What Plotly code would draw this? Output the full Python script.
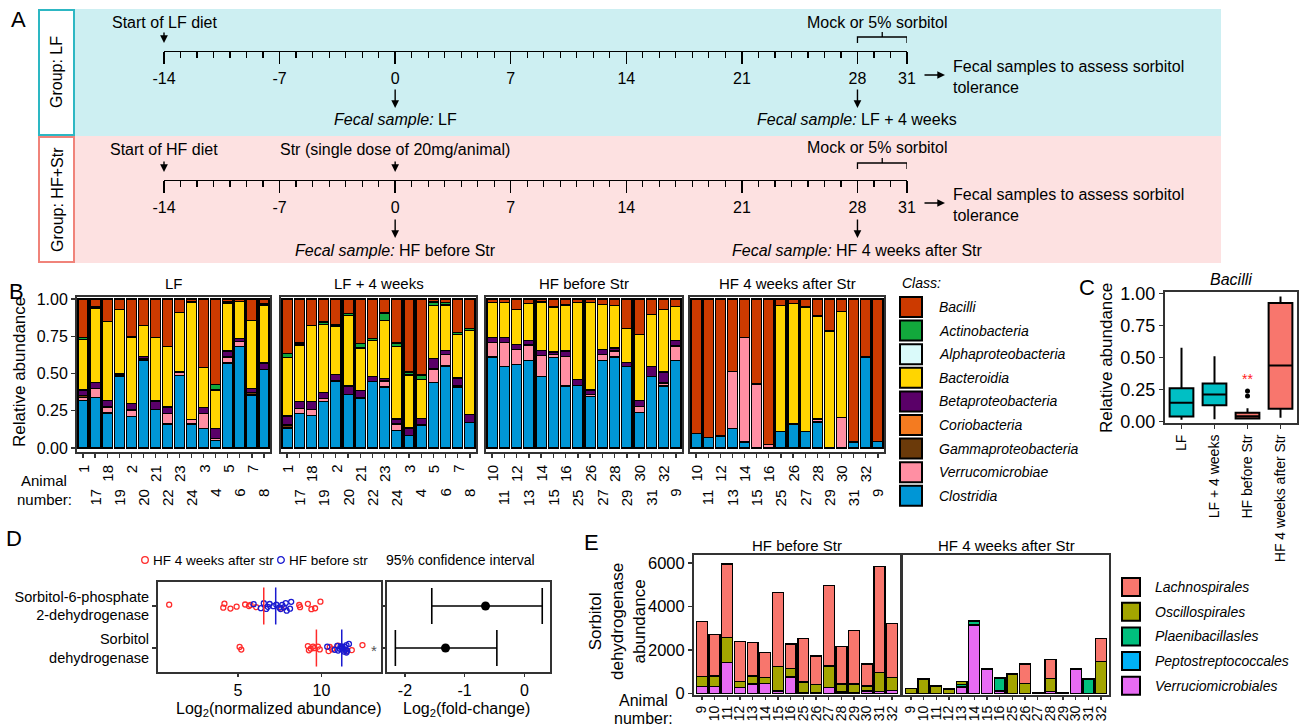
import plotly.graph_objects as go
import numpy as np

W, H = 1304, 728
FONT = "Liberation Sans"


def fx(p):
    return p / W


def fy(p):
    return 1 - p / H


# ======================= DATA =======================
timeline_ticks = [-14, -7, 0, 7, 14, 21, 28, 31]
timeline_tick_text = ["-14", "-7", "0", "7", "14", "21", "28", "31"]

lf_animals = ["1", "17", "18", "19", "2", "20", "21", "22", "23", "24", "3", "4", "5", "6", "7", "8"]
hf_animals = ["10", "11", "12", "13", "14", "15", "16", "25", "26", "27", "28", "29", "30", "31", "32", "9"]
facet_titles = ["LF", "LF + 4 weeks", "HF before Str", "HF 4 weeks after Str"]
b_ytick_vals = [0, 0.25, 0.5, 0.75, 1.0]
b_ytick_text = ["0.00", "0.25", "0.50", "0.75", "1.00"]

# legend order (top to bottom) == stack order top to bottom
class_names = ["Bacilli", "Actinobacteria", "Alphaproteobacteria", "Bacteroidia", "Betaproteobacteria",
               "Coriobacteria", "Gammaproteobacteria", "Verrucomicrobiae", "Clostridia"]
class_colors = ["#CC3A00", "#12A83C", "#DAFAFA", "#FFD500", "#5A0068",
                "#F47B20", "#6B3A0A", "#FF8FA3", "#0096D6"]

lf_abund = {
    "Clostridia":          [0.32, 0.34, 0.235, 0.48, 0.21, 0.59, 0.26, 0.16, 0.485, 0.16, 0.13, 0.05, 0.57, 0.68, 0.35, 0.525],
    "Verrucomicrobiae":    [0.02, 0.06, 0.04, 0.0, 0.045, 0.0, 0.0, 0.07, 0.025, 0.03, 0.10, 0.015, 0.04, 0.035, 0.01, 0.0],
    "Gammaproteobacteria": [0.01, 0.0, 0.0, 0.01, 0.0, 0.01, 0.0, 0.0, 0.0, 0.0, 0.0, 0.0, 0.0, 0.0, 0.01, 0.0],
    "Betaproteobacteria":  [0.04, 0.04, 0.045, 0.01, 0.045, 0.015, 0.055, 0.045, 0.0, 0.0, 0.04, 0.065, 0.04, 0.02, 0.03, 0.045],
    "Bacteroidia":         [0.34, 0.50, 0.53, 0.43, 0.44, 0.205, 0.425, 0.405, 0.40, 0.79, 0.27, 0.26, 0.32, 0.25, 0.455, 0.39],
    "Actinobacteria":      [0.01, 0.01, 0.0, 0.0, 0.01, 0.0, 0.0, 0.0, 0.0, 0.0, 0.0, 0.035, 0.01, 0.0, 0.0, 0.01],
    "Bacilli":             [0.26, 0.05, 0.15, 0.07, 0.25, 0.18, 0.26, 0.32, 0.09, 0.02, 0.46, 0.575, 0.02, 0.015, 0.145, 0.03],
}
lf4w_abund = {
    "Clostridia":          [0.135, 0.23, 0.22, 0.31, 0.45, 0.36, 0.335, 0.445, 0.41, 0.115, 0.085, 0.155, 0.44, 0.55, 0.41, 0.17],
    "Verrucomicrobiae":    [0.0, 0.035, 0.04, 0.02, 0.0, 0.0, 0.0, 0.0, 0.04, 0.045, 0.0, 0.0, 0.09, 0.075, 0.01, 0.0],
    "Gammaproteobacteria": [0.02, 0.0, 0.0, 0.0, 0.0, 0.0, 0.0, 0.0, 0.0, 0.0, 0.0, 0.0, 0.0, 0.0, 0.0, 0.0],
    "Betaproteobacteria":  [0.06, 0.045, 0.05, 0.04, 0.045, 0.055, 0.05, 0.035, 0.015, 0.035, 0.05, 0.045, 0.07, 0.03, 0.05, 0.055],
    "Bacteroidia":         [0.39, 0.38, 0.51, 0.46, 0.32, 0.475, 0.285, 0.24, 0.39, 0.485, 0.355, 0.26, 0.355, 0.305, 0.29, 0.565],
    "Actinobacteria":      [0.03, 0.015, 0.0, 0.015, 0.01, 0.01, 0.03, 0.015, 0.05, 0.025, 0.02, 0.03, 0.025, 0.015, 0.015, 0.01],
    "Bacilli":             [0.365, 0.295, 0.18, 0.155, 0.175, 0.10, 0.30, 0.265, 0.095, 0.295, 0.49, 0.51, 0.02, 0.025, 0.225, 0.20],
}
hfb_abund = {
    "Clostridia":          [0.61, 0.545, 0.56, 0.585, 0.48, 0.605, 0.415, 0.42, 0.345, 0.585, 0.61, 0.545, 0.24, 0.48, 0.415, 0.585],
    "Verrucomicrobiae":    [0.10, 0.165, 0.10, 0.105, 0.14, 0.02, 0.20, 0.0, 0.015, 0.04, 0.04, 0.0, 0.04, 0.0, 0.02, 0.10],
    "Betaproteobacteria":  [0.03, 0.03, 0.035, 0.03, 0.035, 0.02, 0.035, 0.04, 0.03, 0.035, 0.02, 0.03, 0.04, 0.065, 0.075, 0.035],
    "Bacteroidia":         [0.235, 0.235, 0.235, 0.25, 0.325, 0.30, 0.31, 0.515, 0.585, 0.305, 0.285, 0.225, 0.44, 0.35, 0.42, 0.23],
    "Bacilli":             [0.025, 0.025, 0.07, 0.03, 0.02, 0.055, 0.04, 0.025, 0.025, 0.035, 0.045, 0.20, 0.24, 0.105, 0.07, 0.05],
}
hfa_abund = {
    "Clostridia":          [0.095, 0.07, 0.08, 0.13, 0.04, 0.0, 0.005, 0.11, 0.16, 0.11, 0.175, 0.0, 0.0, 0.04, 0.61, 0.045],
    "Verrucomicrobiae":    [0.0, 0.0, 0.0, 0.385, 0.70, 0.43, 0.02, 0.0, 0.0, 0.0, 0.02, 0.0, 0.205, 0.0, 0.0, 0.0],
    "Bacteroidia":         [0.0, 0.0, 0.0, 0.0, 0.0, 0.0, 0.0, 0.845, 0.81, 0.835, 0.69, 0.785, 0.71, 0.0, 0.0, 0.0],
    "Bacilli":             [0.905, 0.93, 0.92, 0.485, 0.26, 0.57, 0.975, 0.045, 0.03, 0.055, 0.115, 0.215, 0.085, 0.96, 0.39, 0.955],
}

# Panel C
box_groups = ["LF", "LF + 4 weeks", "HF before Str", "HF 4 weeks after Str"]
box_colors = ["#00BFC4", "#00BFC4", "#F8766D", "#F8766D"]

# Panel D
d_row_labels = ["Sorbitol<br>dehydrogenase", "Sorbitol-6-phosphate<br>2-dehydrogenase"]
s6p_after = [0.88, 4.12, 4.19, 4.55, 4.92, 5.43, 5.66, 5.75, 6.09, 7.6, 8.67, 8.72, 9.19, 9.40, 9.62, 9.94]
s6p_before = [5.94, 6.37, 6.55, 6.69, 6.79, 6.9, 7.12, 7.3, 7.48, 7.55, 7.65, 7.75, 7.86, 7.92, 8.12, 8.19]
sdh_after = [5.1, 5.2, 9.19, 9.25, 9.36, 9.5, 9.57, 9.79, 9.9, 10.43, 10.5, 10.64, 11.0, 11.5, 11.82, 12.46]
sdh_before = [10.35, 10.8, 10.95, 11.0, 11.1, 11.15, 11.2, 11.25, 11.3, 11.35, 11.4, 11.45, 11.5, 11.55, 11.65, 11.5]
fc_point = [-1.32, -0.65]   # [SDH, S6P]
fc_low = [-2.16, -1.55]
fc_high = [-0.46, 0.30]

# Panel E
e_animals = ["9", "10", "11", "12", "13", "14", "15", "16", "25", "26", "27", "28", "29", "30", "31", "32"]
e_titles = ["HF before Str", "HF 4 weeks after Str"]
e_orders = ["Lachnospirales", "Oscillospirales", "Plaenibacillasles", "Peptostreptococcales", "Verruciomicrobiales"]
e_colors = ["#F8766D", "#A3A500", "#00BF7D", "#00B0F6", "#E76BF3"]
e_before = {
    "Verruciomicrobiales": [320, 320, 1440, 275, 430, 460, 120, 765, 40, 45, 275, 75, 30, 120, 90, 150],
    "Oscillospirales":     [450, 480, 1135, 275, 370, 275, 1120, 385, 495, 355, 995, 355, 400, 230, 875, 585],
    "Lachnospirales":      [2540, 1900, 3375, 1840, 1545, 1150, 3400, 1120, 1995, 1330, 3685, 1745, 2480, 1000, 4890, 2500],
}
e_after = {
    "Verruciomicrobiales": [0, 0, 0, 0, 300, 3150, 1100, 120, 0, 0, 0, 90, 0, 1120, 0, 0],
    "Plaenibacillasles":   [0, 0, 0, 0, 120, 150, 0, 580, 0, 0, 0, 0, 0, 0, 660, 0],
    "Oscillospirales":     [230, 660, 350, 200, 130, 60, 40, 30, 890, 460, 20, 600, 20, 0, 0, 1470],
    "Lachnospirales":      [0, 0, 0, 0, 0, 0, 0, 0, 0, 890, 0, 860, 0, 0, 0, 1070],
}
e_ytick_vals = [0, 2000, 4000, 6000]

# ======================= FIGURE =======================
fig = go.Figure()
annotations = []
shapes = []


def T(text, x, y, size=15, xanchor="center", yanchor="middle", angle=0, color="black",
      xref="paper", yref="paper", align="center"):
    annotations.append(dict(
        text=text, x=fx(x) if xref == "paper" else x, y=fy(y) if yref == "paper" else y,
        xref=xref, yref=yref, showarrow=False, xanchor=xanchor, yanchor=yanchor,
        textangle=angle, align=align, font=dict(family=FONT, size=size, color=color)))


def ARROW(x, y_tip, dx, dy, xref="paper"):
    annotations.append(dict(
        text="", x=fx(x) if xref == "paper" else x, y=fy(y_tip), xref=xref, yref="paper",
        showarrow=True, ax=dx, ay=dy, axref="pixel", ayref="pixel", arrowhead=2,
        arrowsize=1.1, arrowwidth=1.4, arrowcolor="black"))


def RECT(x0, y0, x1, y1, fill, line_color=None, lw=0, layer="below"):
    shapes.append(dict(type="rect", xref="paper", yref="paper", x0=fx(x0), x1=fx(x1), y0=fy(y1), y1=fy(y0),
                       fillcolor=fill, line=dict(color=line_color or fill, width=lw), layer=layer))


def CIRCLE(cx, cy, r, color):
    shapes.append(dict(type="circle", xref="paper", yref="paper", x0=fx(cx - r), x1=fx(cx + r),
                       y0=fy(cy + r), y1=fy(cy - r), line=dict(color=color, width=1.3),
                       fillcolor="rgba(0,0,0,0)"))


def frame_axis(**kw):
    base = dict(showline=True, mirror=True, linecolor="#333333", linewidth=2, showgrid=False,
                zeroline=False, ticks="outside", ticklen=4, tickcolor="#333333", tickwidth=1.3,
                tickfont=dict(size=15, family=FONT, color="black"), fixedrange=True, automargin=False)
    base.update(kw)
    return base


layout = dict(width=W, height=H, margin=dict(l=0, r=0, t=0, b=0, pad=0, autoexpand=False),
              paper_bgcolor="white", plot_bgcolor="rgba(0,0,0,0)", showlegend=False,
              barmode="stack", boxmode="overlay", font=dict(family=FONT, size=15, color="black"))

# ---------------- Panel A ----------------
RECT(74, 9, 1221, 136, "#CDEFF2")
RECT(74, 136, 1221, 263, "#FDE1E1")
RECT(39, 10, 74, 135, "white", "#2DB7C3", 2)
RECT(39, 137, 74, 262, "white", "#F0837A", 2)
T("Group: LF", 57, 72, size=16, angle=-90)
T("Group: HF+Str", 57, 200, size=16, angle=-90)

for i, ax_line_y in enumerate([51, 180]):
    xa = "xaxis" if i == 0 else "xaxis2"
    ya = "yaxis" if i == 0 else "yaxis2"
    layout[xa] = dict(domain=[fx(164), fx(907)], range=[-14, 31], anchor="y" if i == 0 else "y2",
                      tickmode="array", tickvals=timeline_ticks, ticktext=timeline_tick_text,
                      ticks="outside", ticklen=12, automargin=False,
                      tickwidth=1.4, tickcolor="black", showline=True, linewidth=1.4, linecolor="black",
                      showgrid=False, zeroline=False, fixedrange=True,
                      tickfont=dict(size=16, family=FONT, color="black"),
                      minor=dict(tickmode="linear", tick0=-14, dtick=1, ticks="outside", ticklen=6,
                                 tickwidth=1.2, tickcolor="black", showgrid=False))
    layout[ya] = dict(domain=[fy(ax_line_y), fy(ax_line_y - 20)], range=[0, 1], visible=False,
                      anchor="x" if i == 0 else "x2", fixedrange=True, automargin=False)
    fig.add_trace(go.Scatter(x=[timeline_ticks[0], timeline_ticks[-1]], y=[0.5, 0.5], mode="markers",
                             marker=dict(opacity=0), hoverinfo="skip",
                             xaxis="x" if i == 0 else "x2", yaxis="y" if i == 0 else "y2"))

# LF timeline annotations
T("Start of LF diet", -14, 22, size=16, xref="x")
ARROW(-14, 43, 0, -12, xref="x")
ARROW(0, 108, 0, -20, xref="x")
T("<i>Fecal sample:</i> LF", 0, 120, size=16, xref="x")
ARROW(28, 108, 0, -20, xref="x")
T("<i>Fecal sample:</i> LF + 4 weeks", 28, 120, size=16, xref="x")
T("Mock or 5% sorbitol", 29.2, 22, size=16, xref="x")
ARROW(945, 75, -22, 0)
T("Fecal samples to assess sorbitol<br>tolerance", 951, 77, size=16, xanchor="left", align="left")
# HF timeline annotations
T("Start of HF diet", -14, 150, size=16, xref="x2")
ARROW(-14, 172, 0, -12, xref="x2")
T("Str (single dose of 20mg/animal)", 0, 150, size=16, xref="x2")
ARROW(0, 172, 0, -12, xref="x2")
ARROW(0, 238, 0, -20, xref="x2")
T("<i>Fecal sample:</i> HF before Str", 0, 250, size=16, xref="x2")
ARROW(28, 238, 0, -20, xref="x2")
T("<i>Fecal sample:</i> HF 4 weeks after Str", 28, 250, size=16, xref="x2")
T("Mock or 5% sorbitol", 29.2, 148, size=16, xref="x2")
ARROW(945, 203, -22, 0)
T("Fecal samples to assess sorbitol<br>tolerance", 951, 205, size=16, xanchor="left", align="left")
for xr, ytop in [("x", 37), ("x2", 163)]:
    shapes.append(dict(type="path", xref=xr, yref="paper",
                       path=f"M 28,{fy(ytop + 6)} L 28,{fy(ytop)} L 31,{fy(ytop)} L 31,{fy(ytop + 6)} "
                            f"M 29.5,{fy(ytop)} L 29.5,{fy(ytop - 5)}",
                       line=dict(color="black", width=1.3)))

# ---------------- Panel B ----------------
b_domains = [(77, 270), (281, 476), (486, 682), (690, 884)]
b_facets = [(lf_animals, lf_abund), (lf_animals, lf4w_abund), (hf_animals, hfb_abund), (hf_animals, hfa_abund)]
for fi, ((animals, ab), (d0, d1)) in enumerate(zip(b_facets, b_domains)):
    n = 3 + fi
    xa, ya = f"x{n}", f"y{n}"
    pos = list(range(len(animals)))
    for cname, ccol in reversed(list(zip(class_names, class_colors))):
        if cname not in ab:
            continue
        fig.add_trace(go.Bar(x=pos, y=ab[cname], xaxis=xa, yaxis=ya, width=0.84,
                             marker=dict(color=ccol, line=dict(color="black", width=1.3)),
                             hoverinfo="skip"))
    layout[f"xaxis{n}"] = frame_axis(domain=[fx(d0), fx(d1)], range=[-0.5, len(animals) - 0.5],
                                     anchor=ya, tickvals=pos, showticklabels=False)
    layout[f"yaxis{n}"] = frame_axis(domain=[fy(452), fy(297)], range=[-0.027, 1.013], anchor=xa,
                                     tickvals=b_ytick_vals, ticktext=b_ytick_text,
                                     showticklabels=(fi == 0), ticks="outside" if fi == 0 else "",
                                     tickfont=dict(size=16, family=FONT, color="black"))
    T(facet_titles[fi], (d0 + d1) / 2, 284, size=15)
    for i, lab in enumerate(animals):
        annotations.append(dict(text=lab, x=i, y=fy(463 if i % 2 == 0 else 487), xref=xa, yref="paper",
                                showarrow=False, textangle=-90, xanchor="center", yanchor="top",
                                font=dict(family=FONT, size=15, color="black")))

T("Relative abundance", 19, 372, size=17, angle=-90)
T("Animal", 44, 480, size=15)
T("number:", 44, 499, size=15)
T("<i>Class:</i>", 900, 283, size=14, xanchor="left")
for k, (cname, ccol) in enumerate(zip(class_names, class_colors)):
    cy = 307 + 23.6 * k
    RECT(900, cy - 10, 922, cy + 10, ccol, "black", 2, layer="above")
    T(f"<i>{cname}</i>", 937, cy, size=14, xanchor="left")

# ---------------- Panel C ----------------
box_data = [lf_abund["Bacilli"], lf4w_abund["Bacilli"], hfb_abund["Bacilli"], hfa_abund["Bacilli"]]
for g, vals, col in zip(box_groups, box_data, box_colors):
    fig.add_trace(go.Box(x=[g] * len(vals), y=vals, xaxis="x7", yaxis="y7", fillcolor=col,
                         line=dict(color="black", width=2), marker=dict(color="black", size=5),
                         boxpoints="outliers", whiskerwidth=0, width=0.72, quartilemethod="inclusive",
                         hoverinfo="skip"))
layout["xaxis7"] = frame_axis(domain=[fx(1165), fx(1297)], anchor="y7", type="category",
                              categoryorder="array", categoryarray=box_groups, range=[-0.5, 3.5],
                              tickangle=-90, tickfont=dict(size=14, family=FONT, color="black"))
layout["yaxis7"] = frame_axis(domain=[fy(423), fy(292)], anchor="x7", range=[-0.01, 1.01],
                              tickvals=b_ytick_vals, ticktext=b_ytick_text,
                              tickfont=dict(size=18, family=FONT, color="black"))
T("<i>Bacilli</i>", 1231, 279, size=16)
T("Relative abundance", 1106, 358, size=17, angle=-90)
T("**", 2, 0.33, xref="x7", yref="y7", size=14, color="#FF2020")

# ---------------- Panel D ----------------
d_groups = [(s6p_after, 1, "#FF2A2A"), (s6p_before, 1, "#1A1AD0"), (sdh_after, 0, "#FF2A2A"), (sdh_before, 0, "#1A1AD0")]
for vals, row, col in d_groups:
    fig.add_trace(go.Box(x=vals, y=[row] * len(vals), orientation="h", xaxis="x8", yaxis="y8",
                         boxpoints="all", jitter=0.55, pointpos=0, width=0.42,
                         fillcolor="rgba(0,0,0,0)", line=dict(width=0, color="rgba(0,0,0,0)"),
                         marker=dict(symbol="circle-open", size=5, color=col, line=dict(width=1.3, color=col)),
                         hoverinfo="skip"))
    m = float(np.mean(vals))
    fig.add_trace(go.Scatter(x=[m, m], y=[row - 0.44, row + 0.44], mode="lines", xaxis="x8", yaxis="y8",
                             line=dict(color=col, width=1.5), hoverinfo="skip"))
layout["xaxis8"] = frame_axis(domain=[fx(158), fx(381)], anchor="y8", range=[0.21, 13.57], tickvals=[5, 10],
                              ticklen=3, tickfont=dict(size=16, family=FONT, color="black"))
layout["yaxis8"] = frame_axis(domain=[fy(672), fy(582)], anchor="x8", range=[-0.57, 1.57],
                              tickvals=[0, 1], ticktext=d_row_labels,
                              tickfont=dict(size=14.5, family=FONT, color="black"))
fig.add_trace(go.Scatter(x=fc_point, y=[0, 1], mode="markers", xaxis="x9", yaxis="y9",
                         marker=dict(color="black", size=9),
                         error_x=dict(type="data", symmetric=False,
                                      array=[h - p for h, p in zip(fc_high, fc_point)],
                                      arrayminus=[p - l for p, l in zip(fc_point, fc_low)],
                                      color="black", thickness=1.6, width=18),
                         hoverinfo="skip"))
layout["xaxis9"] = frame_axis(domain=[fx(387), fx(550)], anchor="y9", range=[-2.30, 0.43],
                              tickvals=[-2, -1, 0], ticktext=["-2", "-1", "0"], ticklen=3,
                              tickfont=dict(size=16, family=FONT, color="black"))
layout["yaxis9"] = frame_axis(domain=[fy(672), fy(582)], anchor="x9", range=[-0.57, 1.57],
                              tickvals=[0, 1], showticklabels=False)
T("*", 374, 650, size=15, color="#555555")
T("Log<sub>2</sub>(normalized abundance)", 278, 709, size=16)
T("Log<sub>2</sub>(fold-change)", 466, 709, size=16)
CIRCLE(145, 560, 3.3, "#FF2A2A")
T("HF 4 weeks after str", 151, 560, size=13.5, xanchor="left")
CIRCLE(281, 560, 3.3, "#1A1AD0")
T("HF before str", 287, 560, size=13.5, xanchor="left")
T("95% confidence interval", 384, 560, size=14, xanchor="left")

# ---------------- Panel E ----------------
e_domains = [(694, 900), (903, 1109)]
for fi, (data, (d0, d1)) in enumerate(zip([e_before, e_after], e_domains)):
    n = 10 + fi
    xa, ya = f"x{n}", f"y{n}"
    for oname, ocol in reversed(list(zip(e_orders, e_colors))):
        if oname not in data:
            continue
        fig.add_trace(go.Bar(x=e_animals, y=data[oname], xaxis=xa, yaxis=ya, width=0.86,
                             marker=dict(color=ocol, line=dict(color="black", width=1.3)),
                             hoverinfo="skip"))
    layout[f"xaxis{n}"] = frame_axis(domain=[fx(d0), fx(d1)], anchor=ya, type="category",
                                     categoryorder="array", categoryarray=e_animals,
                                     tickmode="array", tickvals=e_animals, ticktext=e_animals,
                                     range=[-0.62, len(e_animals) - 0.38], tickangle=-90, ticklen=3,
                                     tickfont=dict(size=14, family=FONT, color="black"))
    layout[f"yaxis{n}"] = frame_axis(domain=[fy(695), fy(555)], anchor=xa, range=[-70, 6370],
                                     tickvals=e_ytick_vals, showticklabels=(fi == 0),
                                     ticks="outside" if fi == 0 else "",
                                     tickfont=dict(size=16.5, family=FONT, color="black"))
    T(e_titles[fi], (d0 + d1) / 2, 545, size=15)
T("Sorbitol<br>dehydrogenase<br>abundance", 617, 622, size=17, angle=-90)
T("Animal", 643, 700, size=16)
T("number:", 643, 718, size=16)
for k, (oname, ocol) in enumerate(zip(e_orders, e_colors)):
    cy = 587 + 24.7 * k
    RECT(1122, cy - 9, 1140, cy + 9, ocol, "black", 2, layer="above")
    T(f"<i>{oname}</i>", 1153, cy, size=14, xanchor="left")

# ---------------- Panel letters ----------------
T("A", 18, 19, size=22)
T("B", 16, 291, size=22)
T("C", 1087, 288, size=22)
T("D", 14, 538, size=22)
T("E", 591, 542, size=22)

layout["annotations"] = annotations
layout["shapes"] = shapes
fig.update_layout(**layout)
fig.write_html("out.html", config={"displayModeBar": False, "staticPlot": True},
               post_script="document.body.style.margin='0px';document.body.style.padding='0px';"
                           "document.body.style.overflow='hidden';")
